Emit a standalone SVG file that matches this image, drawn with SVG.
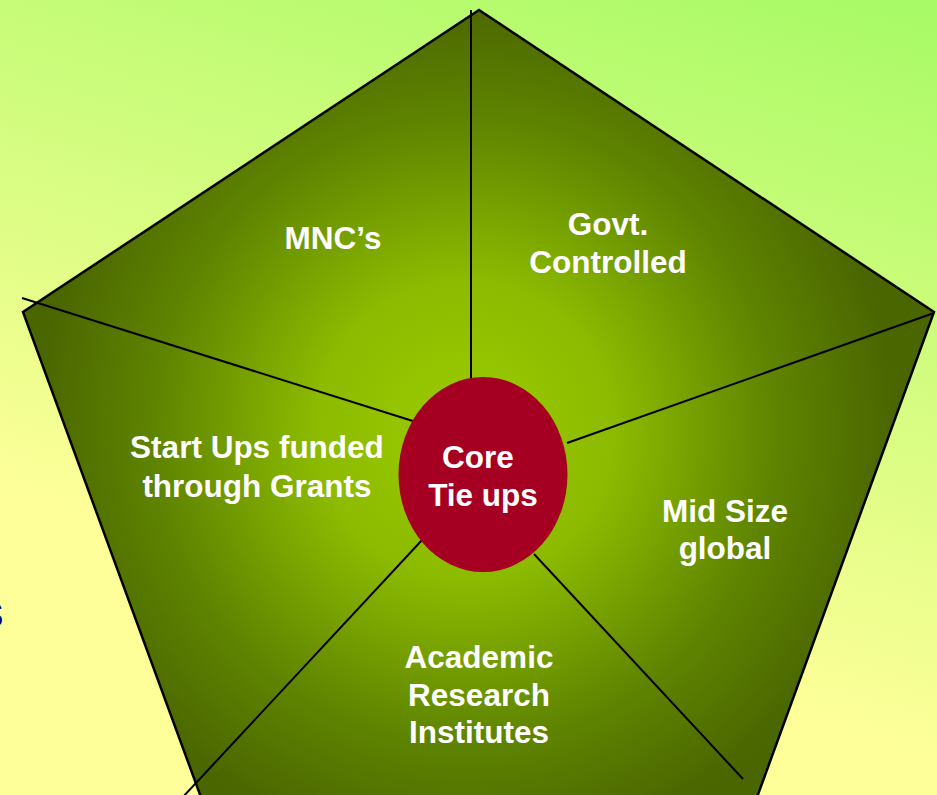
<svg xmlns="http://www.w3.org/2000/svg" width="937" height="795" viewBox="0 0 937 795">
<defs>
<linearGradient id="bg" gradientUnits="userSpaceOnUse" x1="900" y1="0" x2="700" y2="700">
<stop offset="0" stop-color="#a8fa66"/>
<stop offset="1" stop-color="#ffff99"/>
</linearGradient>
<radialGradient id="pg" gradientUnits="userSpaceOnUse" cx="465" cy="430" r="430">
<stop offset="0" stop-color="#9ccc00"/>
<stop offset="0.35" stop-color="#8cba00"/>
<stop offset="0.72" stop-color="#5f8400"/>
<stop offset="1" stop-color="#4a6600"/>
</radialGradient>
<style>
.lbl{font-family:"Liberation Sans",Arial,sans-serif;font-weight:bold;font-size:31.5px;fill:#ffffff;text-anchor:middle}
.con{stroke:#000;stroke-width:2;fill:none}
</style>
</defs>
<rect x="0" y="0" width="937" height="795" fill="url(#bg)"/>
<text x="-19" y="627" font-family="Liberation Sans, Arial, sans-serif" font-size="45" fill="#00007a">s</text>
<g id="pentagon">
<polygon points="479,10 934,312 756,800 202,800 23,312" fill="url(#pg)" stroke="#000" stroke-width="2.5"/>
</g>
<g id="connectors">
<line class="con" x1="471" y1="10" x2="471" y2="382"/>
<line class="con" x1="22" y1="298" x2="416" y2="422"/>
<line class="con" x1="934" y1="313" x2="567" y2="443"/>
<line class="con" x1="423" y1="539" x2="182" y2="798" stroke-width="1.5"/>
<line class="con" x1="534" y1="554" x2="743" y2="779"/>
</g>
<g id="core">
<ellipse cx="483" cy="474.5" rx="84.5" ry="97.5" fill="#a50021"/>
<text class="lbl" x="478" y="468">Core</text>
<text class="lbl" x="483" y="506">Tie ups</text>
</g>
<g id="mncs"><text class="lbl" x="333" y="249">MNC’s</text></g>
<g id="govt"><text class="lbl" x="608" y="235">Govt.</text><text class="lbl" x="608" y="273">Controlled</text></g>
<g id="startups"><text class="lbl" x="257" y="458">Start Ups funded</text><text class="lbl" x="257" y="497">through Grants</text></g>
<g id="midsize"><text class="lbl" x="725" y="522">Mid Size</text><text class="lbl" x="725" y="559">global</text></g>
<g id="academic"><text class="lbl" x="479" y="668">Academic</text><text class="lbl" x="479" y="706">Research</text><text class="lbl" x="479" y="743">Institutes</text></g>
</svg>
